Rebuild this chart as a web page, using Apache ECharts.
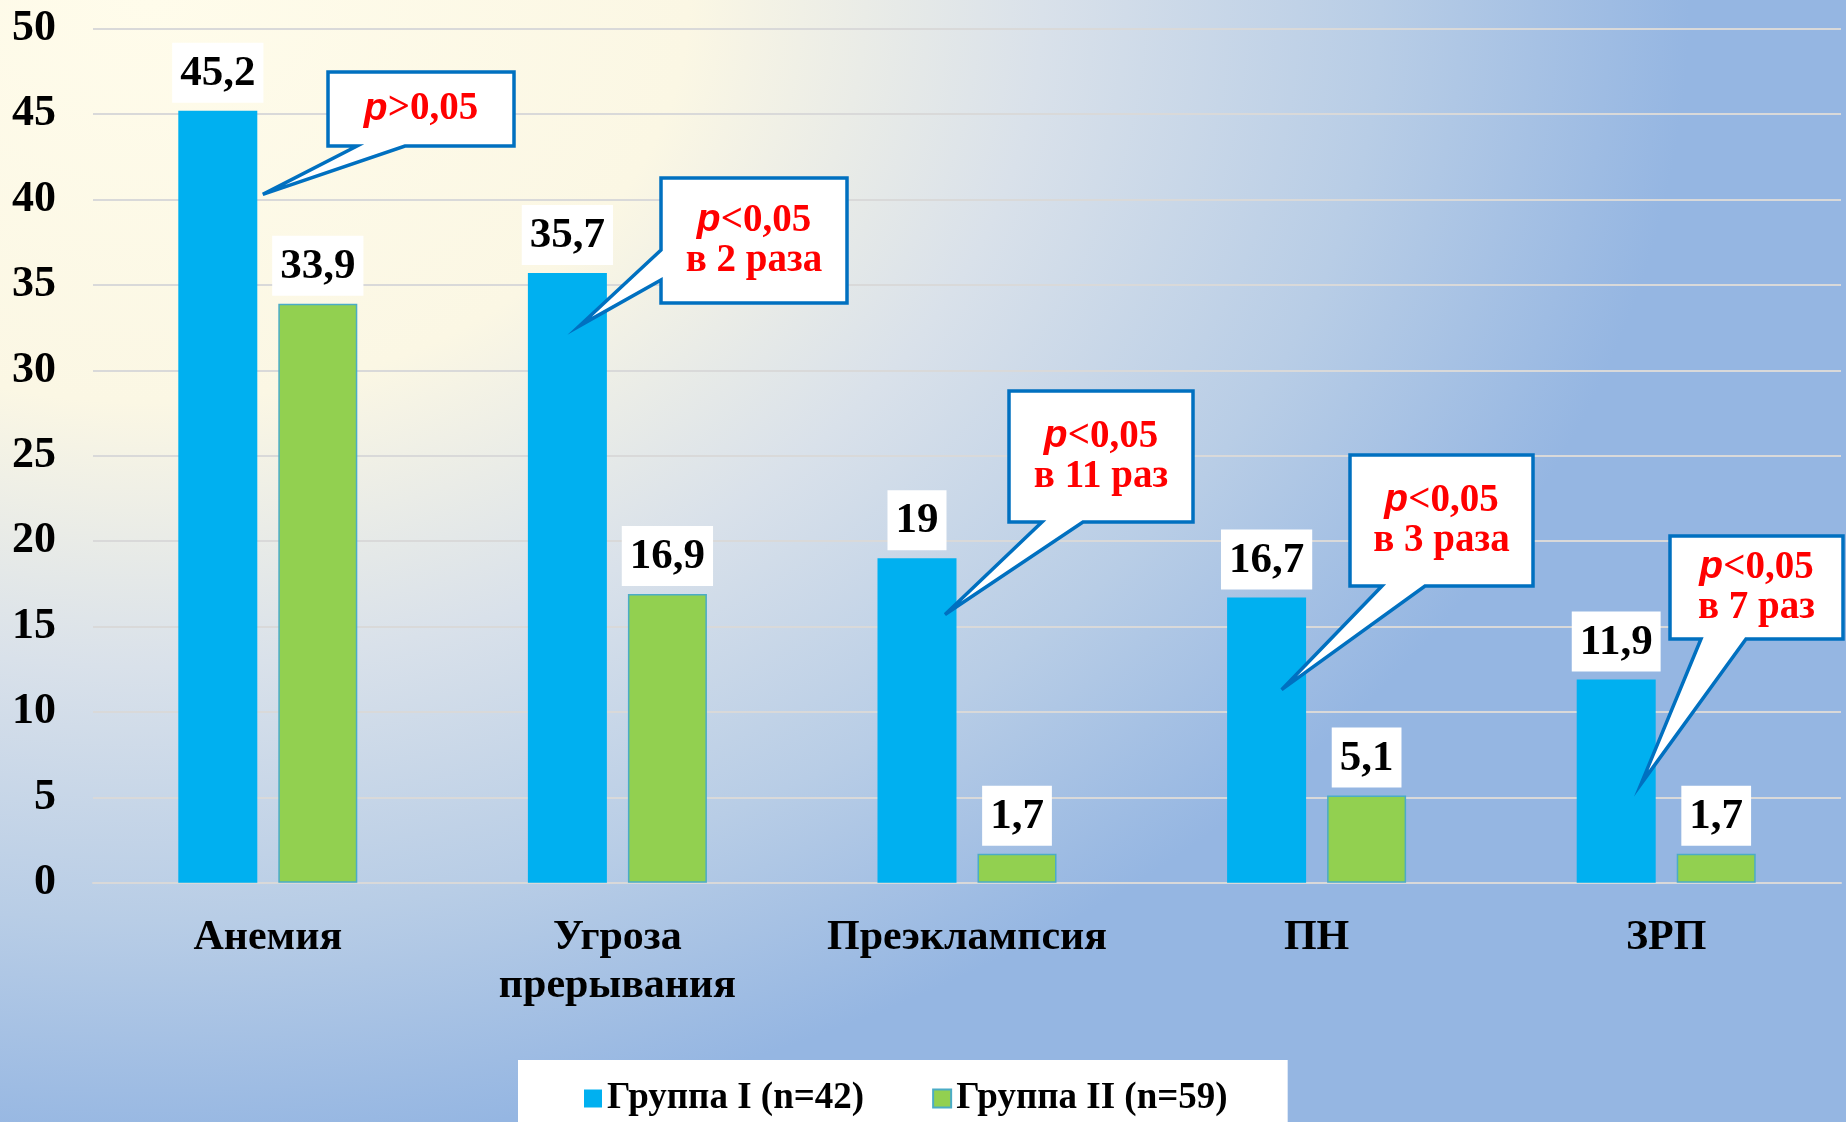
<!DOCTYPE html>
<html><head><meta charset="utf-8">
<script src="https://cdn.jsdelivr.net/npm/echarts@6/dist/echarts.min.js"></script>
<style>html,body{margin:0;padding:0;background:#fff;}#c{width:1846px;height:1122px;}</style>
</head><body><div id="c"></div>
<script>
// ---- data ----
const categories = ['Анемия', 'Угроза\nпрерывания', 'Преэклампсия', 'ПН', 'ЗРП'];
const seriesNames = ['Группа I (n=42)', 'Группа II (n=59)'];
const group1 = [45.2, 35.7, 19, 16.7, 11.9];
const group2 = [33.9, 16.9, 1.7, 5.1, 1.7];
const yMin = 0, yMax = 50, yStep = 5;
const calloutTexts = ['p>0,05', 'p<0,05\nв 2 раза', 'p<0,05\nв 11 раз', 'p<0,05\nв 3 раза', 'p<0,05\nв 7 раз'];
const calloutTipValues = [40.3, 32.6, 15.7, 11.3, 5.8];

// ---- layout / styles ----
const serif = '"Liberation Serif", "Times New Roman", serif';
const sans = '"Liberation Sans", Arial, sans-serif';
const calloutLayout = [
  {box: [328, 72, 514, 146], side: 'bottom', base: [357, 405], dx: -5},
  {box: [661, 178, 847, 303], side: 'left', base: [250, 280], dx: -38},
  {box: [1009, 391, 1193, 522], side: 'bottom', base: [1042, 1083], dx: -22},
  {box: [1350, 455, 1533, 586], side: 'bottom', base: [1382, 1425], dx: -35},
  {box: [1670, 536, 1843, 639], side: 'bottom', base: [1701, 1746], dx: -25}
];

const fmt = v => String(v).replace('.', ',');
const labelStyle = {
  show: true, position: 'top', distance: 8,
  formatter: p => fmt(p.value),
  fontFamily: serif, fontWeight: 'bold', fontSize: 43, lineHeight: 46,
  color: '#000', backgroundColor: '#fff', padding: [8, 8, 6, 8]
};

const bgRect = {
  id: 'bg', type: 'rect', z: -100, silent: true, scaleY: 0.747,
  shape: {x: 0, y: 0, width: 1846, height: 1846},
  style: {fill: {type: 'radial', x: 0.081, y: 0, r: 0.834, colorStops: [
    {offset: 0, color: '#FFFCEB'},
    {offset: 0.35, color: '#FBF7E4'},
    {offset: 0.58, color: '#D9E1EA'},
    {offset: 0.8, color: '#B8CDE6'},
    {offset: 1, color: '#95B6E2'}
  ]}}
};

const chart = echarts.init(document.getElementById('c'), null, {renderer: 'canvas'});
chart.setOption({
  animation: false,
  grid: {left: 93, right: 5, top: 28.7, bottom: 239.3},
  legend: {
    data: seriesNames, left: 518, top: 1060, itemWidth: 18, itemHeight: 18, itemGap: 68,
    icon: 'rect', backgroundColor: '#fff', padding: [20, 60, 18, 66],
    textStyle: {fontFamily: serif, fontWeight: 'bold', fontSize: 37, color: '#000'}
  },
  xAxis: {
    type: 'category', data: categories,
    axisLine: {lineStyle: {color: '#D9D9D9', width: 2}},
    axisTick: {show: false},
    axisLabel: {fontFamily: serif, fontWeight: 'bold', fontSize: 42, lineHeight: 48, color: '#000', margin: 31, interval: 0}
  },
  yAxis: {
    type: 'value', min: yMin, max: yMax, interval: yStep,
    axisLine: {show: false}, axisTick: {show: false},
    axisLabel: {fontFamily: serif, fontWeight: 'bold', fontSize: 44, color: '#000', margin: 37},
    splitLine: {lineStyle: {color: '#D9D9D9', width: 2}}
  },
  series: [
    {type: 'bar', name: seriesNames[0], data: group1, barWidth: 79, barGap: '26.6%',
     itemStyle: {color: '#00B0F0'}, label: labelStyle},
    {type: 'bar', name: seriesNames[1], data: group2, barWidth: 79, barGap: '26.6%',
     itemStyle: {color: '#92D050', borderColor: '#4BACC6', borderWidth: 1.5}, label: labelStyle}
  ]
});

// ---- callouts ----
const rich = {
  p: {fontFamily: sans, fontStyle: 'italic', fontWeight: 'bold', fontSize: 39, fill: '#FF0000', lineHeight: 40},
  t: {fontFamily: serif, fontWeight: 'bold', fontSize: 39, fill: '#FF0000', lineHeight: 40}
};
const toRich = s => s.split('\n').map((line, i) =>
  (i === 0 && line[0] === 'p') ? '{p|p}{t|' + line.slice(1) + '}' : '{t|' + line + '}').join('\n');

const elems = [bgRect];
calloutLayout.forEach((L, i) => {
  const px = chart.convertToPixel({xAxisIndex: 0, yAxisIndex: 0}, [i, calloutTipValues[i]]);
  const tip = [px[0] + L.dx, px[1]];
  const [x0, y0, x1, y1] = L.box;
  let pts;
  if (L.side === 'bottom') {
    pts = [[x0, y0], [x1, y0], [x1, y1], [L.base[1], y1], tip, [L.base[0], y1], [x0, y1]];
  } else {
    pts = [[x0, y0], [x1, y0], [x1, y1], [x0, y1], [x0, L.base[1]], tip, [x0, L.base[0]]];
  }
  elems.push({id: 'cb' + i, type: 'polygon', z: 50, silent: true, shape: {points: pts},
    style: {fill: '#fff', stroke: '#0070C0', lineWidth: 3.5, lineJoin: 'miter'}});
  elems.push({id: 'ct' + i, type: 'text', z: 51, silent: true, x: (x0 + x1) / 2, y: (y0 + y1) / 2,
    style: {text: toRich(calloutTexts[i]), align: 'center', verticalAlign: 'middle', rich: rich}});
});
chart.setOption({graphic: elems});
</script>
</body></html>
